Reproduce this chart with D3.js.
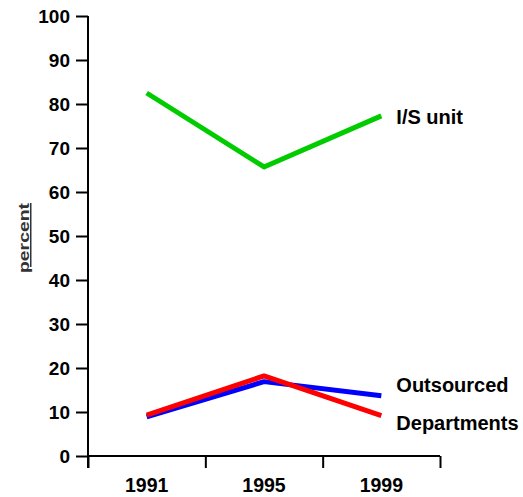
<!DOCTYPE html>
<html>
<head>
<meta charset="utf-8">
<script src="https://cdn.jsdelivr.net/npm/d3@7"></script>
<style>
    body { margin: 0; background: #fff; }
    text { font-family: Arial, "Liberation Sans", sans-serif; font-weight: bold; }
</style>
</head>
<body>
<svg id="chart" width="523" height="497"></svg>
<script>
const years = ['1991', '1995', '1999'];
const yTicks = [0, 10, 20, 30, 40, 50, 60, 70, 80, 90, 100];
const isUnit = [82.5, 65.7, 77.3];
const outsourced = [8.9, 16.9, 13.7];
const departments = [9.3, 18.2, 9.2];
const seriesNames = ['I/S unit', 'Outsourced', 'Departments'];

const svg = d3.select('#chart');

let x = d3.scaleBand().domain(years).range([88, 440]).padding(0),
    xEdges = d3.scaleLinear().domain([0, years.length]).range([88, 440]),
    y = d3.scaleLinear().domain([0, 100]).range([456, 16]);

// y axis
let yAxis = svg.append('g')
    .attr('transform', 'translate(88,0)')
    .call(d3.axisLeft(y).tickValues(yTicks).tickSize(12).tickPadding(6));
yAxis.select('.domain').remove();
yAxis.selectAll('line').attr('stroke', '#000').attr('stroke-width', 2);
yAxis.selectAll('text').attr('font-size', 19).attr('fill', '#000');

// y axis line goes a bit below zero, like the x ticks
svg.append('line')
    .attr('x1', 88).attr('x2', 88)
    .attr('y1', y(100)).attr('y2', y(0) + 12)
    .attr('stroke', '#000').attr('stroke-width', 2);

// x axis: tick marks on the band edges, labels in the middle
let xTickAxis = svg.append('g')
    .attr('transform', 'translate(0,456)')
    .call(d3.axisBottom(xEdges).ticks(years.length).tickSize(12).tickFormat(''));
xTickAxis.select('.domain').remove();
xTickAxis.selectAll('line').attr('stroke', '#000').attr('stroke-width', 2);

svg.append('line')
    .attr('x1', 88).attr('x2', 440)
    .attr('y1', y(0)).attr('y2', y(0))
    .attr('stroke', '#000').attr('stroke-width', 2);

let xLabelAxis = svg.append('g')
    .attr('transform', 'translate(0,456)')
    .call(d3.axisBottom(x).tickSize(0).tickPadding(22));
xLabelAxis.select('.domain').remove();
xLabelAxis.selectAll('text').attr('font-size', 19.5).attr('fill', '#000');

// y title
svg.append('text')
    .attr('transform', 'translate(29,238) rotate(-90)')
    .attr('text-anchor', 'middle')
    .attr('font-size', 15)
    .attr('fill', '#333')
    .attr('text-decoration', 'underline')
    .attr('textLength', 70)
    .attr('lengthAdjust', 'spacingAndGlyphs')
    .text('percent');

// lines
let lineFunc = d3.line()
    .x(function(d, i) { return x(years[i]) + x.bandwidth() / 2 })
    .y(function(d) { return y(d) });

let series = [
    { name: seriesNames[0], values: isUnit, color: '#00cc00', dy: 1 },
    { name: seriesNames[1], values: outsourced, color: '#0000ff', dy: -11 },
    { name: seriesNames[2], values: departments, color: '#ff0000', dy: 7 }
];

series.forEach(function(s) {
    svg.append('path')
        .attr('d', lineFunc(s.values))
        .attr('fill', 'none')
        .attr('stroke', s.color)
        .attr('stroke-width', 5)
        .attr('stroke-linejoin', 'round');

    let last = s.values.length - 1;
    svg.append('text')
        .attr('x', x(years[last]) + x.bandwidth() / 2 + 15)
        .attr('y', y(s.values[last]) + s.dy)
        .attr('dy', '0.35em')
        .attr('font-size', 20)
        .attr('fill', '#000')
        .text(s.name);
});
</script>
</body>
</html>
